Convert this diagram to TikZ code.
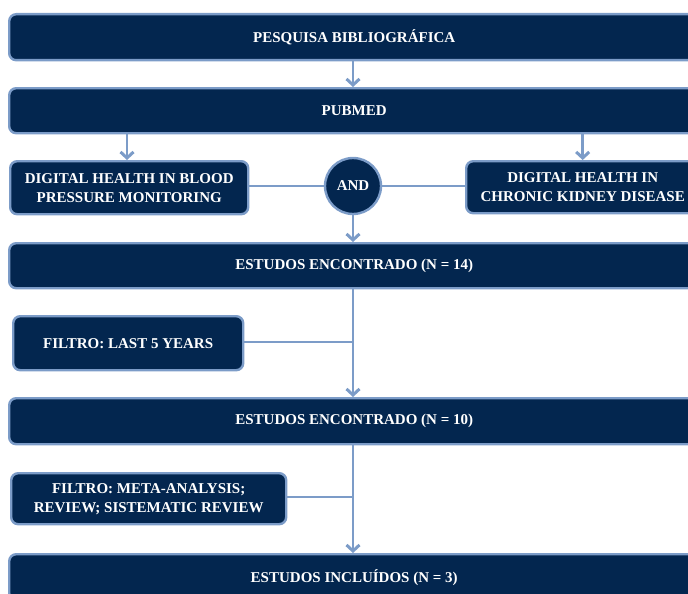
\documentclass[tikz,border=0pt]{standalone}
\usepackage{fontspec}
\setmainfont{Liberation Serif}
\usetikzlibrary{arrows.meta}
\definecolor{navy}{HTML}{03264F}
\definecolor{edge}{HTML}{7C9CC8}
\begin{document}
\begin{tikzpicture}[x=1pt,y=-1pt,
  box/.style={draw=edge,line width=2.4pt,fill=navy,rounded corners=7pt,
    text=white,font=\bfseries\fontsize{15}{19}\selectfont,align=center,
    inner sep=0pt,anchor=north west},
  andnode/.style={draw=edge,line width=2.4pt,fill=navy,circle,
    text=white,font=\bfseries\fontsize{15}{19}\selectfont,inner sep=0pt,minimum size=56pt},
  conn/.style={draw=edge,line width=2.8pt},
  arr/.style={conn,-{Straight Barb[length=6pt,width=13pt,line width=3pt]}}]
\useasboundingbox (0,0) rectangle (688,594);
\begin{scope}
\clip (0,0) rectangle (688,594);
\node[box,minimum width=690pt,minimum height=46pt] (b1) at (8,13) {PESQUISA BIBLIOGRÁFICA};
\node[box,minimum width=690pt,minimum height=45pt] (b2) at (8,87) {PUBMED};
\node[box,minimum width=238pt,minimum height=53pt] (bp) at (9,160) {DIGITAL HEALTH IN BLOOD\\PRESSURE MONITORING};
\node[andnode] (and) at (353,186) {AND};
\node[box,minimum width=233pt,minimum height=52pt] (ckd) at (465,160) {DIGITAL HEALTH IN\\CHRONIC KIDNEY DISEASE};
\node[box,minimum width=690pt,minimum height=45pt] (n14) at (8,242) {ESTUDOS ENCONTRADO (N = 14)};
\node[box,minimum width=230pt,minimum height=54pt] (f5) at (12,315) {FILTRO: LAST 5 YEARS};
\node[box,minimum width=690pt,minimum height=46pt] (n10) at (8,397) {ESTUDOS ENCONTRADO (N = 10)};
\node[box,minimum width=275pt,minimum height=51pt] (fm) at (10,472) {FILTRO: META-ANALYSIS;\\REVIEW; SISTEMATIC REVIEW};
\node[box,minimum width=690pt,minimum height=46pt] (fin) at (8,553) {ESTUDOS INCLUÍDOS (N = 3)};
\end{scope}
\coordinate (j1) at (353,342);
\coordinate (j2) at (353,497);
\draw[arr] (b1.south -| and) -- (b2.north -| and);
\draw[arr] (b2.south -| 127,0) -- (bp.north -| 127,0);
\draw[arr] (b2.south -| ckd.north) -- (ckd.north);
\draw[conn] (and.west -| bp.east) -- (and.west);
\draw[conn] (and.east) -- (and.east -| ckd.west);
\draw[arr] (and.south) -- (n14.north -| and);
\draw[arr] (n14.south -| and) -- (n10.north -| and);
\draw[conn] (f5.east |- j1) -- (j1);
\draw[arr] (n10.south -| and) -- (fin.north -| and);
\draw[conn] (fm.east |- j2) -- (j2);
\end{tikzpicture}
\end{document}
